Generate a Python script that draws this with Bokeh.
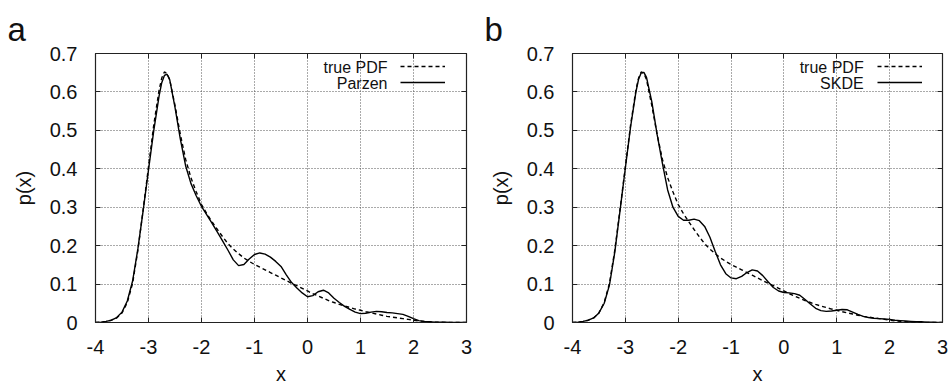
from bokeh.plotting import figure
from bokeh.models import Range1d, FixedTicker, Legend, LegendItem, Label, LinearAxis, Title
from bokeh.layouts import row
from bokeh.embed import file_html
from bokeh.resources import INLINE

# ---------------- data ----------------
X = [-4.0, -3.9, -3.8, -3.7, -3.6, -3.5, -3.4, -3.3, -3.2, -3.1, -3.0, -2.9, -2.8,
     -2.75, -2.7, -2.65, -2.6,
     -2.5, -2.4, -2.3, -2.2, -2.1, -2.0,
     -1.9, -1.8, -1.7, -1.6, -1.5, -1.4, -1.3, -1.2, -1.1, -1.0,
     -0.9, -0.8, -0.7, -0.6, -0.5, -0.4, -0.3, -0.2, -0.1, 0.0,
     0.1, 0.2, 0.3, 0.4, 0.5, 0.6, 0.7, 0.8, 0.9, 1.0,
     1.1, 1.2, 1.3, 1.4, 1.5, 1.6, 1.7, 1.8, 1.9, 2.0,
     2.1, 2.2, 2.3, 2.4, 2.5, 2.6, 2.7, 2.8, 2.9, 3.0]

TRUE_PDF = [0.000, 0.001, 0.003, 0.006, 0.012, 0.025, 0.052, 0.102, 0.188, 0.295, 0.405, 0.515, 0.605,
            0.636, 0.652, 0.648, 0.632,
            0.565, 0.490, 0.425, 0.377, 0.340, 0.307,
            0.283, 0.262, 0.242, 0.223, 0.205, 0.191, 0.179, 0.168, 0.159, 0.151,
            0.144, 0.137, 0.130, 0.123, 0.116, 0.109, 0.102, 0.096, 0.089, 0.082,
            0.075, 0.069, 0.063, 0.057, 0.052, 0.047, 0.043, 0.039, 0.035, 0.032,
            0.028, 0.025, 0.022, 0.019, 0.016, 0.014, 0.012, 0.010, 0.008, 0.006,
            0.004, 0.003, 0.002, 0.001, 0.001, 0.000, 0.000, 0.000, 0.000, 0.000]

PARZEN = [0.000, 0.001, 0.003, 0.006, 0.013, 0.027, 0.056, 0.108, 0.192, 0.292, 0.397, 0.500, 0.590,
          0.624, 0.643, 0.646, 0.632,
          0.560, 0.478, 0.408, 0.362, 0.330, 0.302,
          0.280, 0.258, 0.235, 0.212, 0.188, 0.163, 0.148, 0.151, 0.165, 0.177,
          0.181, 0.178, 0.170, 0.159, 0.146, 0.124, 0.104, 0.090, 0.077, 0.067,
          0.070, 0.080, 0.084, 0.077, 0.063, 0.052, 0.042, 0.034, 0.027, 0.023,
          0.024, 0.027, 0.029, 0.028, 0.026, 0.025, 0.023, 0.021, 0.016, 0.010,
          0.005, 0.003, 0.002, 0.001, 0.001, 0.001, 0.000, 0.000, 0.000, 0.000]

SKDE = [0.000, 0.001, 0.003, 0.006, 0.012, 0.025, 0.050, 0.098, 0.183, 0.292, 0.402, 0.510, 0.600,
        0.633, 0.650, 0.651, 0.638,
        0.575, 0.490, 0.415, 0.345, 0.300, 0.276,
        0.266, 0.266, 0.269, 0.265, 0.250, 0.222, 0.185, 0.150, 0.127, 0.116,
        0.114, 0.120, 0.130, 0.137, 0.134, 0.122, 0.106, 0.091, 0.082, 0.078,
        0.077, 0.075, 0.071, 0.060, 0.048, 0.037, 0.031, 0.029, 0.030, 0.032,
        0.034, 0.033, 0.027, 0.021, 0.016, 0.013, 0.011, 0.010, 0.009, 0.008,
        0.006, 0.005, 0.004, 0.003, 0.002, 0.002, 0.001, 0.001, 0.000, 0.000]

X_TICKS = [-4, -3, -2, -1, 0, 1, 2, 3]
X_TICK_LABELS = ["-4", "-3", "-2", "-1", "0", "1", "2", "3"]
Y_TICKS = [0, 0.1, 0.2, 0.3, 0.4, 0.5, 0.6, 0.7]
Y_TICK_LABELS = ["0", "0.1", "0.2", "0.3", "0.4", "0.5", "0.6", "0.7"]

FONT = "Liberation Sans"
INK = "#111111"


def style_axis(ax):
    ax.axis_line_color = None
    ax.major_tick_in = 5
    ax.major_tick_out = 0
    ax.minor_tick_line_color = None
    ax.major_tick_line_color = "#222222"
    ax.major_tick_line_width = 1
    ax.major_label_text_font = FONT
    ax.major_label_text_font_size = "20px"
    ax.major_label_text_color = INK


def make_panel(letter, est_values, est_name, width, border_left, border_right):
    p = figure(width=width, height=387,
               x_range=Range1d(-4, 3), y_range=Range1d(0, 0.7),
               output_backend="svg", toolbar_location=None,
               min_border_left=border_left, min_border_right=border_right,
               min_border_top=53, min_border_bottom=64,
               background_fill_color="white", border_fill_color="white")
    p.outline_line_color = "#222222"
    p.outline_line_width = 1.2

    p.title = Title(text=letter, align="left", offset=-88, standoff=12,
                    text_font=FONT, text_font_size="33px", text_line_height=0.7,
                    text_font_style="normal", text_color=INK)

    xa = p.xaxis[0]
    ya = p.yaxis[0]
    style_axis(xa)
    style_axis(ya)
    xa.ticker = FixedTicker(ticks=X_TICKS)
    xa.major_label_overrides = dict(zip(X_TICKS, X_TICK_LABELS))
    xa.major_label_standoff = 17
    xa.axis_label = "x"
    xa.axis_label_text_font = FONT
    xa.axis_label_text_font_size = "20px"
    xa.axis_label_text_font_style = "normal"
    xa.axis_label_text_color = INK
    xa.axis_label_standoff = 6
    ya.ticker = FixedTicker(ticks=Y_TICKS)
    ya.major_label_overrides = dict(zip(Y_TICKS, Y_TICK_LABELS))
    ya.major_label_standoff = 18
    ya.axis_label = "p(x)"
    ya.axis_label_text_font = FONT
    ya.axis_label_text_font_size = "20px"
    ya.axis_label_text_font_style = "normal"
    ya.axis_label_text_color = INK
    ya.axis_label_standoff = 12

    # mirrored inward ticks on top and right (no labels)
    ra = LinearAxis(ticker=FixedTicker(ticks=Y_TICKS),
                    major_label_overrides={t: "" for t in Y_TICKS},
                    major_label_standoff=0)
    style_axis(ra)
    p.add_layout(ra, "right")
    ta = LinearAxis(ticker=FixedTicker(ticks=X_TICKS),
                    major_label_overrides={t: "" for t in X_TICKS},
                    major_label_standoff=0)
    style_axis(ta)
    p.add_layout(ta, "above")

    for g, t in ((p.xgrid[0], X_TICKS), (p.ygrid[0], Y_TICKS)):
        g.ticker = FixedTicker(ticks=t)
        g.grid_line_color = "#555555"
        g.grid_line_dash = "1 2"
        g.grid_line_width = 1

    r_true = p.line(X, TRUE_PDF, line_color="black", line_width=1.4, line_dash="4 3")
    r_est = p.line(X, est_values, line_color="black", line_width=1.4)

    # key samples (gnuplot style: text on the left, sample on the right)
    legend = Legend(items=[LegendItem(label=" ", renderers=[r_true]),
                           LegendItem(label=" ", renderers=[r_est])],
                    location=(305, 232), glyph_width=45, glyph_height=16,
                    label_height=16, label_width=0, spacing=0, padding=0, margin=0,
                    label_standoff=0, label_text_font_size="1px",
                    border_line_color=None, background_fill_alpha=0)
    p.add_layout(legend)
    p.add_layout(Label(x=1.509, y=0.6624, text="true PDF", text_align="right",
                       text_baseline="middle", text_font=FONT,
                       text_font_size="16px", text_color=INK))
    p.add_layout(Label(x=1.509, y=0.6215, text=est_name, text_align="right",
                       text_baseline="middle", text_font=FONT,
                       text_font_size="16px", text_color=INK))
    return p


pa = make_panel("a", PARZEN, "Parzen", 477, 95, 11)
pb = make_panel("b", SKDE, "SKDE", 471, 95, 6)

layout = row(pa, pb)
open("out.html", "w").write(file_html(layout, INLINE))
